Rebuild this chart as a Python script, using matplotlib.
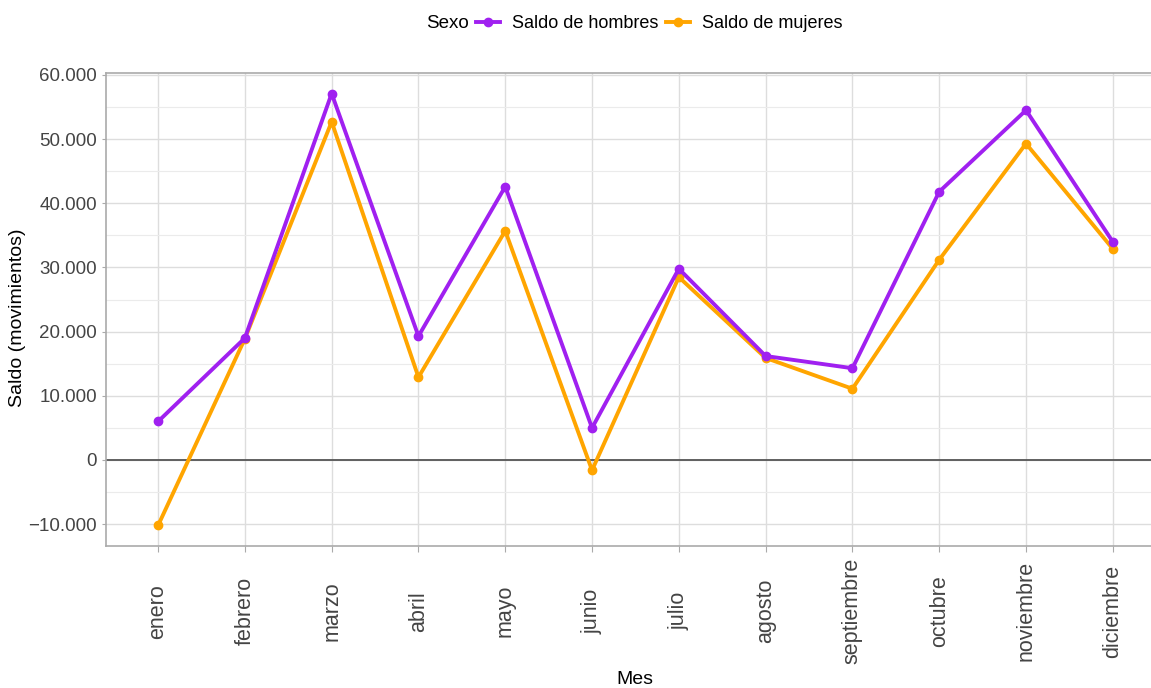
import matplotlib.pyplot as plt
import matplotlib.transforms as mtransforms
from matplotlib.lines import Line2D
from matplotlib.ticker import FuncFormatter, MultipleLocator

plt.rcParams['font.family'] = ['Liberation Sans', 'DejaVu Sans']

meses = ['enero', 'febrero', 'marzo', 'abril', 'mayo', 'junio', 'julio',
         'agosto', 'septiembre', 'octubre', 'noviembre', 'diciembre']
hombres = [6000, 19000, 57100, 19300, 42600, 5000, 29800, 16200, 14300, 41800, 54500, 34000]
mujeres = [-10200, 18900, 52700, 12900, 35700, -1600, 28500, 15900, 11100, 31200, 49300, 32900]

purple = '#A020F0'
orange = '#FFA500'

fig = plt.figure(figsize=(11.51, 6.88), dpi=100)
ax = fig.add_axes([106 / 1151, 1 - 546 / 688, (1151 - 106) / 1151, (546 - 73) / 688])

x = list(range(len(meses)))
ax.axhline(0, color='#555555', lw=1.3, zorder=2)
ax.plot(x, hombres, color=purple, lw=2.8, marker='o', ms=6, zorder=4)
ax.plot(x, mujeres, color=orange, lw=2.8, marker='o', ms=6, zorder=3)

ax.set_xlim(-0.6, (1151 - 158) / 86.8)
ax.set_ylim(-13400, 60300)
ax.yaxis.set_major_locator(MultipleLocator(10000))
ax.yaxis.set_minor_locator(MultipleLocator(5000))
ax.yaxis.set_major_formatter(FuncFormatter(
    lambda v, p: '0' if v == 0 else ('\u2212' if v < 0 else '') + f'{abs(int(v)):,}'.replace(',', '.')))
ax.set_xticks(x)
ax.set_xticklabels(meses, rotation=90, fontsize=15.5, color='#444444', va='center')
shift = mtransforms.ScaledTranslation(5 / 100, 0, fig.dpi_scale_trans)
for t in ax.get_xticklabels():
    t.set_transform(t.get_transform() + shift)
ax.tick_params(axis='y', labelsize=13.5, labelcolor='#444444', color='#aaaaaa', length=3)
ax.tick_params(axis='y', which='minor', length=0)
ax.tick_params(axis='x', color='#aaaaaa', length=4, pad=43)

ax.grid(True, which='major', color='#dddddd', lw=1.0)
ax.grid(True, which='minor', axis='y', color='#ebebeb', lw=0.8)
ax.set_axisbelow(True)
for s in ['left', 'bottom', 'top']:
    ax.spines[s].set_color('#aaaaaa')
    ax.spines[s].set_linewidth(1.2)
ax.spines['right'].set_visible(False)

fig.text(18 / 1151, 1 - 318 / 688, 'Saldo (movimientos)', fontsize=14, rotation=90,
         ha='center', va='center')
fig.text(635 / 1151, 1 - 679 / 688, 'Mes', fontsize=14, ha='center', va='center')

fig.text(447 / 1151, 1 - 24 / 688, 'Sexo', fontsize=13.5, va='center', ha='center')
handles = [Line2D([], [], color=purple, lw=2.8, marker='o', ms=6),
           Line2D([], [], color=orange, lw=2.8, marker='o', ms=6)]
fig.legend(handles, ['Saldo de hombres', 'Saldo de mujeres'], loc='center left',
           bbox_to_anchor=(476 / 1151, 1 - 24 / 688), ncol=2, frameon=False,
           prop={'size': 13}, handlelength=1.33, handletextpad=0.66,
           columnspacing=0.45, borderpad=0, borderaxespad=0)

fig.savefig('out.png', dpi=100)
